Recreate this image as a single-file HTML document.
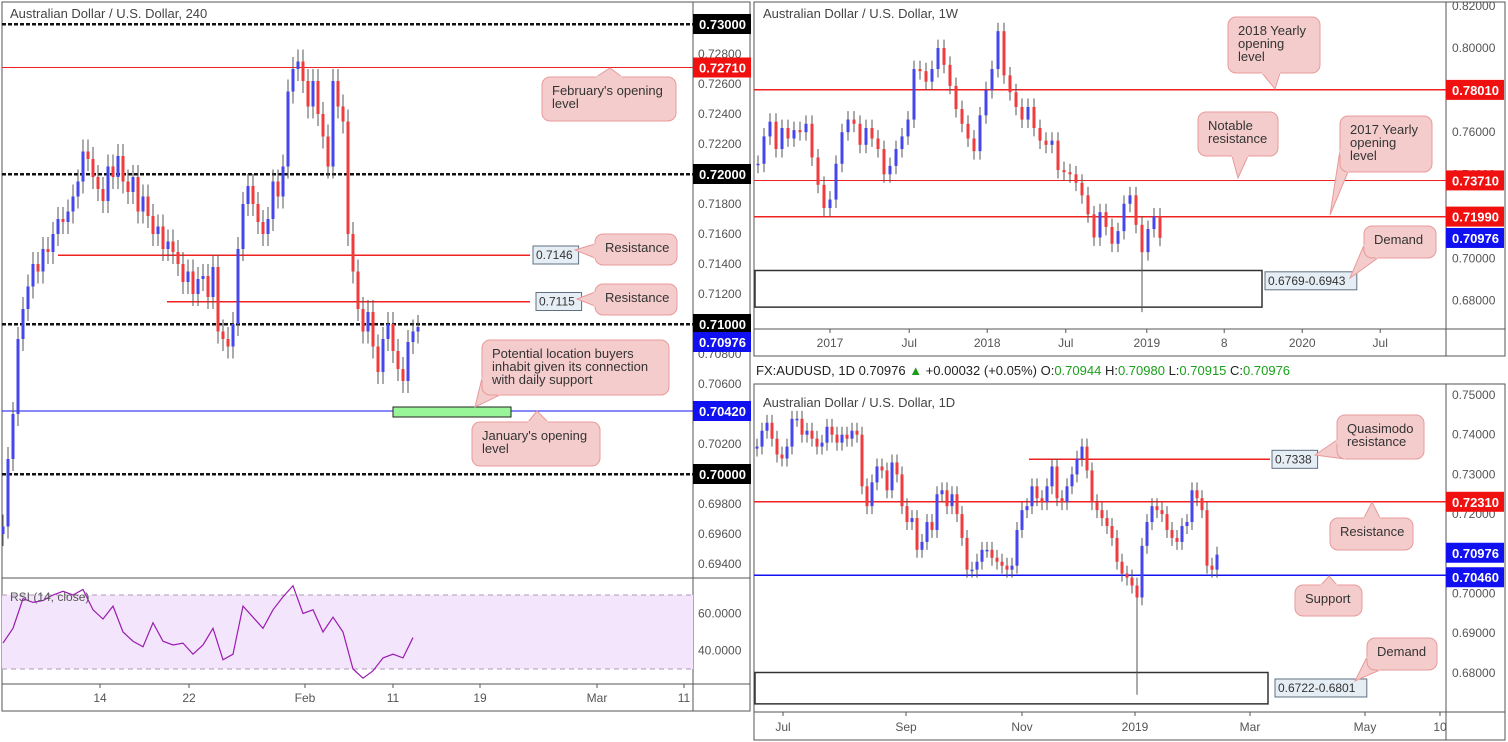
<!DOCTYPE html>
<html><head><meta charset="utf-8"><style>
body{margin:0;background:#fff;}
svg{display:block;font-family:"Liberation Sans",sans-serif;}
</style></head><body>
<svg id="s" width="1508" height="742" viewBox="0 0 1508 742"></svg>
<script>
// ---- data: 4H chart ----
const h4Closes=[0.6965,0.7010,0.7040,0.7090,0.7110,0.7125,0.7140,0.7135,0.7150,0.7148,0.7160,0.7170,0.7168,0.7175,0.7185,0.7195,0.7215,0.7210,0.7198,0.7190,0.7182,0.7205,0.7198,0.7212,0.7195,0.7188,0.7198,0.7175,0.7185,0.7172,0.7160,0.7165,0.7150,0.7155,0.7148,0.7140,0.7128,0.7135,0.7120,0.7130,0.7132,0.7118,0.7138,0.7095,0.7090,0.7085,0.7100,0.7150,0.7180,0.7192,0.7180,0.7168,0.7160,0.7170,0.7195,0.7185,0.7205,0.7255,0.7270,0.7275,0.7262,0.7245,0.7262,0.7240,0.7225,0.7205,0.7262,0.7245,0.7235,0.7160,0.7135,0.7110,0.7095,0.7108,0.7085,0.7068,0.7090,0.7100,0.7082,0.7070,0.7062,0.7088,0.7095,0.7098];
const h4Rsi=[44,52,68,66,67,70,72,70,73,62,57,64,50,45,42,55,45,43,44,38,43,52,35,38,64,58,52,62,69,75,60,62,50,58,50,30,25,29,36,38,36,47];
const h4Ticks=[0.728,0.726,0.724,0.722,0.718,0.716,0.714,0.712,0.708,0.706,0.702,0.698,0.696,0.694];
const h4Dates=["14","22","Feb","11","19","Mar","11"];
const h4DateIdx=[19.4,37.2,60.4,78,95.4,118.8,136.2];
// ---- data: weekly ----
const wCloses=[0.745,0.758,0.765,0.752,0.762,0.757,0.761,0.760,0.764,0.748,0.735,0.724,0.728,0.745,0.760,0.766,0.764,0.754,0.762,0.757,0.752,0.740,0.744,0.752,0.758,0.766,0.790,0.789,0.784,0.790,0.800,0.792,0.782,0.771,0.764,0.757,0.751,0.768,0.780,0.790,0.808,0.787,0.779,0.772,0.766,0.772,0.762,0.756,0.754,0.756,0.742,0.741,0.740,0.736,0.730,0.721,0.710,0.722,0.715,0.707,0.713,0.726,0.730,0.716,0.703,0.714,0.720,0.7098];
const wSpike={idx:64,low:0.6745};
const wTicks=[0.82,0.80,0.76,0.74,0.70,0.68];
const wDates=["2017","Jul","2018","Jul","2019","8","2020","Jul"];
const wDateIdx=[12,25.2,38.2,51.3,64.8,77.7,90.7,103.7];
// ---- data: daily ----
const dCloses=[0.737,0.741,0.743,0.739,0.735,0.734,0.737,0.744,0.744,0.740,0.741,0.739,0.737,0.738,0.742,0.740,0.738,0.740,0.739,0.741,0.740,0.727,0.722,0.728,0.732,0.731,0.726,0.733,0.730,0.722,0.718,0.719,0.711,0.713,0.718,0.716,0.725,0.726,0.722,0.725,0.720,0.714,0.706,0.706,0.708,0.711,0.711,0.709,0.708,0.707,0.706,0.707,0.716,0.721,0.722,0.727,0.724,0.723,0.727,0.732,0.724,0.723,0.727,0.730,0.734,0.737,0.731,0.723,0.721,0.719,0.717,0.714,0.708,0.705,0.704,0.702,0.699,0.712,0.718,0.722,0.721,0.720,0.716,0.714,0.713,0.717,0.718,0.726,0.724,0.721,0.707,0.706,0.7098];
const dSpike={idx:76,low:0.6745};
const dTicks=[0.75,0.74,0.73,0.72,0.70,0.69,0.68];
const dDates=["Jul","Sep","Nov","2019","Mar","May","10"];
const dDateIdx=[5.2,29.8,53,75.6,98.6,121.6,136.6];

const NS="http://www.w3.org/2000/svg";
const S=document.getElementById('s');
function el(t,a,p){const e=document.createElementNS(NS,t);for(const k in a)e.setAttribute(k,a[k]);(p||S).appendChild(e);return e;}
function tx(x,y,s,a,p){const e=el('text',Object.assign({x:x,y:y,'font-size':12,fill:'#555'},a||{}),p);e.textContent=s;return e;}

const y4=p=>24+(0.73-p)*15000, x4=i=>3+i*5;
const yR=v=>595+(70-v)*1.85, xR=i=>3+i*10;
const yW=p=>48+(0.80-p)*2105, xW=i=>758+i*6;
const yD=p=>395+(0.75-p)*3970, xD=i=>757+i*5;

function candles(closes,xf,yf,bw,wk,spike,name){
  const g=el('g',{});
  
  
  closes.forEach((c,i)=>{
    const o=i?closes[i-1]:c-0.0005;
    const hi=Math.max(o,c)+wk, lo=(spike&&spike.idx===i)?spike.low:Math.min(o,c)-wk;
    const x=xf(i);
    const w=el('line',{x1:x,x2:x,y1:yf(hi),y2:yf(lo),stroke:'#555','stroke-width':1},g);
    
    
    const top=yf(Math.max(o,c)),bot=yf(Math.min(o,c));
    const r=el('rect',{x:x-bw/2,y:top,width:bw,height:Math.max(1.5,bot-top),fill:c>=o?'#4646ee':'#f03c3c'},g);
    
    
  });
}
function hline(x1,x2,y,col,dash,w,name){const l=el('line',{x1:x1,x2:x2,y1:y,y2:y,stroke:col,'stroke-width':w||1.3,'stroke-dasharray':dash||'none','shape-rendering':'crispEdges'});return l;}
function tag(x,y,s,bg,name){const g=el('g',{});el('rect',{x:x,y:y-10,width:58,height:20,fill:bg},g);tx(x+6,y+5,s,{fill:'#fff','font-weight':'bold','font-size':13},g);}
function box(x,y,s,name){const g=el('g',{});const w=s.length*6.6+6;el('rect',{x:x,y:y-9,width:w,height:18,fill:'#e6eef5',stroke:'#607080'},g);tx(x+3,y+4,s,{fill:'#333'},g);}
function callout(x,y,w,h,px,py,bx1,by1,bx2,by2,lines,name){
  const g=el('g',{});
  el('polygon',{points:`${bx1},${by1} ${px},${py} ${bx2},${by2}`,fill:'#f5cccc',stroke:'#e89a9a'},g);
  el('rect',{x:x,y:y,width:w,height:h,rx:8,fill:'#f5cccc',stroke:'#e89a9a'},g);
  el('polygon',{points:`${bx1},${by1} ${(bx1+bx2)/2+(px-(bx1+bx2)/2)*0.05},${(by1+by2)/2+(py-(by1+by2)/2)*0.05} ${bx2},${by2}`,fill:'#f5cccc',stroke:'#f5cccc','stroke-width':2},g);
  lines.forEach((s,i)=>tx(x+10,y+18+i*13,s,{fill:'#333','font-size':13},g));
}

// ===== LEFT PANEL =====
el('rect',{x:2,y:2,width:748,height:709,fill:'#fff',stroke:'#555'});
el('line',{x1:693,x2:693,y1:2,y2:711,stroke:'#555'});
el('line',{x1:2,x2:750,y1:578,y2:578,stroke:'#555'});
el('line',{x1:2,x2:750,y1:684,y2:684,stroke:'#555'});
const band=el('rect',{x:2,y:yR(70),width:691,height:yR(30)-yR(70),fill:'#f3e5fb'});
hline(2,693,yR(70),'#b09ab8','5,4',1,'rsi-upper-line');
hline(2,693,yR(30),'#b09ab8','5,4',1,'rsi-lower-line');
[0.73,0.72,0.71,0.70].forEach(p=>hline(2,693,y4(p),'#111','4,2',2.5,'round-number-level'));
hline(2,693,y4(0.7271),'#f02020','',1.3,'february-open-line');
hline(2,693,y4(0.7042),'#1010f0','',1.3,'january-open-line');
hline(58,530,y4(0.7146),'#f02020','',1.5,'resistance-7146');
hline(167,530,y4(0.7115),'#f02020','',1.5,'resistance-7115');
const gz=el('rect',{x:393,y:y4(0.7042)-4,width:118,height:10,fill:'#98f598',stroke:'#222'});
candles(h4Closes,x4,y4,3,0.0008,null,'h4-candles');
const rp=el('polyline',{points:h4Rsi.map((v,i)=>xR(i)+','+yR(v)).join(' '),fill:'none',stroke:'#9b1cb0','stroke-width':1.2});

tx(10,601,'RSI (14, close)',{fill:'#555'});
tx(10,18,'Australian Dollar / U.S. Dollar, 240',{fill:'#444','font-size':13});
h4Ticks.forEach(p=>tx(698,y4(p)+4,p.toFixed(5),{'font-size':12}));
tx(698,yR(60)+4,'60.0000');tx(698,yR(40)+4,'40.0000');
h4Dates.forEach((s,i)=>{const x=x4(h4DateIdx[i]);el('line',{x1:x,x2:x,y1:684,y2:688,stroke:'#555'});tx(x,702,s,{'text-anchor':'middle'});});
tag(693,y4(0.73),'0.73000','#000','tag-7300');
tag(693,y4(0.7271),'0.72710','#f01010','tag-7271');
tag(693,y4(0.72),'0.72000','#000','tag-7200');
tag(693,y4(0.71),'0.71000','#000','tag-7100');
tag(693,y4(0.71)+18,'0.70976','#1010f0','tag-70976-h4');
tag(693,y4(0.7042),'0.70420','#1010f0','tag-7042');
tag(693,y4(0.70),'0.70000','#000','tag-7000');
box(533,y4(0.7146),'0.7146','label-7146');
box(536,y4(0.7115),'0.7115','label-7115');
callout(542,77,134,44,610,68,596,77,622,77,["February's opening","level"],'callout-feb-open');
callout(595,234,82,31,575,250,595,244,595,258,['Resistance'],'callout-resistance-1');
callout(595,284,82,31,577,299,595,292,595,306,['Resistance'],'callout-resistance-2');
callout(482,340,187,55,475,407,482,378,500,395,['Potential location buyers','inhabit given its connection','with daily support'],'callout-buyers');
callout(472,422,128,44,537,411,528,422,548,422,["January's opening","level"],'callout-jan-open');

// ===== RIGHT TOP (WEEKLY) =====
el('rect',{x:754,y:2,width:751,height:354,fill:'#fff',stroke:'#555'});
el('line',{x1:1446,x2:1446,y1:2,y2:356,stroke:'#555'});
el('line',{x1:754,x2:1505,y1:329,y2:329,stroke:'#555'});
hline(754,1446,yW(0.7801),'#f02020','',1.3,'yearly-2018-line');
hline(754,1446,yW(0.7371),'#f02020','',1.3,'notable-resistance-line');
hline(754,1446,yW(0.7199),'#f02020','',1.3,'yearly-2017-line');
const wb=el('rect',{x:755,y:yW(0.6943),width:507,height:yW(0.6769)-yW(0.6943),fill:'none',stroke:'#333','stroke-width':1.5});
candles(wCloses,xW,yW,3,0.004,wSpike,'weekly-candles');
tx(763,18,'Australian Dollar / U.S. Dollar, 1W',{fill:'#444','font-size':13});
wTicks.forEach(p=>tx(1452,yW(p)+4,p.toFixed(5)));
wDates.forEach((s,i)=>{const x=xW(wDateIdx[i]);el('line',{x1:x,x2:x,y1:329,y2:333,stroke:'#555'});tx(x,347,s,{'text-anchor':'middle'});});
tag(1446,yW(0.7801),'0.78010','#f01010','tag-7801');
tag(1446,yW(0.7371),'0.73710','#f01010','tag-7371');
tag(1446,yW(0.7199),'0.71990','#f01010','tag-7199');
tag(1446,yW(0.70976),'0.70976','#1010f0','tag-70976-w');
box(1265,yW(0.6856)-8,'0.6769-0.6943','label-weekly-demand');
callout(1228,17,92,56,1275,89,1262,73,1280,73,['2018 Yearly','opening','level'],'callout-2018-yearly');
callout(1198,112,80,44,1238,178,1232,156,1248,156,['Notable','resistance'],'callout-notable-resistance');
callout(1340,116,92,56,1330,215,1340,150,1348,172,['2017 Yearly','opening','level'],'callout-2017-yearly');
callout(1364,226,72,32,1350,278,1364,245,1378,258,['Demand'],'callout-weekly-demand');

// ===== INFO BAR =====
const ib=el('text',{x:756,y:375,'font-size':13,fill:'#222'});
ib.innerHTML='FX:AUDUSD, 1D 0.70976 <tspan fill="#1a9c1a">▲</tspan> +0.00032 (+0.05%) O:<tspan fill="#1aa01a">0.70944</tspan> H:<tspan fill="#1aa01a">0.70980</tspan> L:<tspan fill="#1aa01a">0.70915</tspan> C:<tspan fill="#1aa01a">0.70976</tspan>';

// ===== RIGHT BOTTOM (DAILY) =====
el('rect',{x:754,y:384,width:751,height:356,fill:'#fff',stroke:'#555'});
el('line',{x1:1446,x2:1446,y1:384,y2:740,stroke:'#555'});
el('line',{x1:754,x2:1505,y1:712,y2:712,stroke:'#555'});
hline(1029,1270,yD(0.7338),'#f02020','',1.3,'quasimodo-line');
hline(754,1446,yD(0.7231),'#f02020','',1.3,'daily-resistance-line');
hline(754,1446,yD(0.7046),'#1010f0','',1.3,'daily-support-line');
const db=el('rect',{x:755,y:yD(0.6801),width:513,height:yD(0.6722)-yD(0.6801),fill:'none',stroke:'#333','stroke-width':1.5});
candles(dCloses,xD,yD,3,0.002,dSpike,'daily-candles');
tx(763,407,'Australian Dollar / U.S. Dollar, 1D',{fill:'#444','font-size':13});
dTicks.forEach(p=>tx(1452,yD(p)+4,p.toFixed(5)));
dDates.forEach((s,i)=>{const x=xD(dDateIdx[i]);el('line',{x1:x,x2:x,y1:712,y2:716,stroke:'#555'});tx(x,731,s,{'text-anchor':'middle'});});
tag(1446,yD(0.7231),'0.72310','#f01010','tag-7231');
tag(1446,yD(0.70976)-2,'0.70976','#1010f0','tag-70976-d');
tag(1446,yD(0.7046)+2,'0.70460','#1010f0','tag-7046');
box(1272,yD(0.7338),'0.7338','label-7338');
box(1275,yD(0.6762),'0.6722-0.6801','label-daily-demand');
callout(1337,415,87,44,1315,455,1337,440,1345,459,['Quasimodo','resistance'],'callout-quasimodo');
callout(1330,518,83,32,1372,502,1364,518,1380,518,['Resistance'],'callout-daily-resistance');
callout(1295,585,67,31,1329,576,1321,585,1337,585,['Support'],'callout-support');
callout(1367,638,70,32,1355,681,1367,657,1380,670,['Demand'],'callout-daily-demand');
</script>
</body></html>
